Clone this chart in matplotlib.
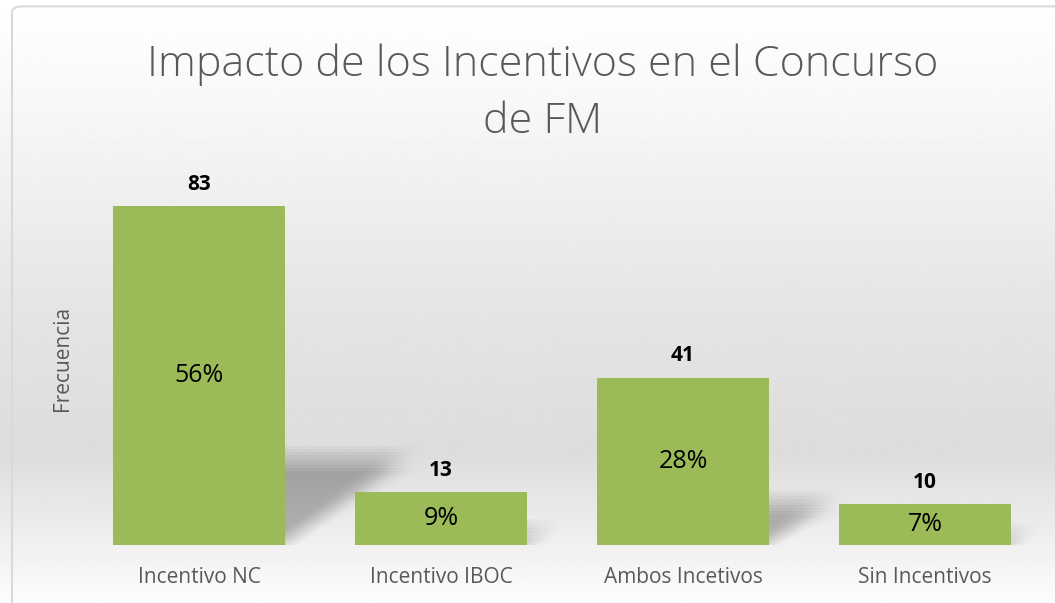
import matplotlib.pyplot as plt
import numpy as np
from matplotlib.patches import Polygon, FancyBboxPatch

categories = ["Incentivo NC", "Incentivo IBOC", "Ambos Incetivos", "Sin Incentivos"]
counts = [83, 13, 41, 10]
percents = ["56%", "9%", "28%", "7%"]

plt.rcParams['font.family'] = ['Open Sans', 'DejaVu Sans']

fig = plt.figure(figsize=(10.55, 6.03), dpi=100)

# --- background gradient (white -> light gray -> white) ---
bg = fig.add_axes([0, 0, 1, 1], zorder=0)
yy = np.linspace(0, 1, 300)
# y=0 is top of the figure here
shade = np.interp(yy, [0, 0.15, 0.5, 0.75, 0.92, 1.0], [1.0, 0.975, 0.9, 0.865, 0.95, 0.99])
bg.imshow(shade[:, None], cmap='gray', vmin=0, vmax=1, aspect='auto',
          extent=[0, 1, 0, 1], origin='upper')
bg.add_patch(FancyBboxPatch((12 / 1055, -0.05), 1.2, 1.05 - 7 / 603 + 0.001,
                            boxstyle="round,pad=0,rounding_size=0.01",
                            transform=bg.transAxes, fill=False,
                            edgecolor='#d9d9d9', linewidth=1.5))
bg.set_xlim(0, 1)
bg.set_ylim(0, 1)
bg.axis('off')

# --- bar chart ---
ax = fig.add_axes([78 / 1055, (603 - 545) / 603, (1046 - 78) / 1055, 90 * 4.084 / 603], zorder=1)
ax.patch.set_alpha(0)
x = np.arange(len(categories))
width = 0.71

# perspective shadows, blurred by stacking shifted copies
offs_x = np.linspace(-0.06, 0.06, 7)
offs_y = np.linspace(-3.0, 3.0, 9)
for xi, h in zip(x, counts):
    x0, x1 = xi - width / 2, xi + width / 2
    top = 0.255 * h
    shift = 0.50 * h / 83
    for dx in offs_x:
        for dy in offs_y:
            poly = Polygon([(x0 + 0.1, 0), (x1 + dx - 0.02, 0),
                            (x1 + shift + dx, top + dy), (x0 + shift + dx, top + dy)],
                           closed=True, facecolor='#505050', edgecolor='none', alpha=0.0056)
            ax.add_patch(poly)

bars = ax.bar(x, counts, width=width, color='#9bbb59', zorder=3)

for b, c, p in zip(bars, counts, percents):
    cx = b.get_x() + b.get_width() / 2
    ax.annotate(str(c), (cx, c), xytext=(0, 8), textcoords='offset points',
                ha='center', va='bottom', fontsize=15, fontweight='bold', color='black')
    ax.text(cx, c / 2, p, ha='center', va='center', fontsize=18, color='black', zorder=4)

ax.set_xlim(-0.5, 3.5)
ax.set_ylim(0, 90)
ax.set_xticks(x)
ax.set_xticklabels(categories, fontsize=15, color='#595959')
ax.tick_params(axis='x', length=0, pad=16)
ax.set_yticks([])
for s in ax.spines.values():
    s.set_visible(False)

fig.text(62 / 1055, 1 - 358 / 603, "Frecuencia", rotation=90, ha='center', va='center',
         fontsize=15, color='#595959')

fig.text(543 / 1055, 1 - 93 / 603, "Impacto de los Incentivos en el Concurso\nde FM",
         ha='center', va='center', fontsize=31, fontweight='light', color='#595959',
         linespacing=1.45)

fig.savefig("out.png", dpi=100)
